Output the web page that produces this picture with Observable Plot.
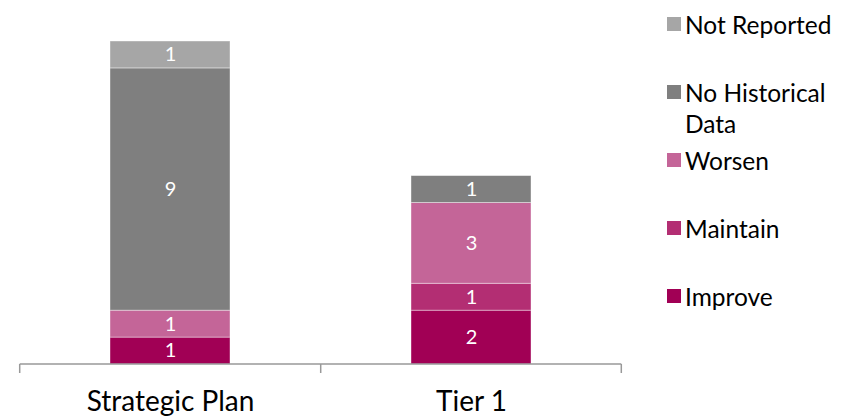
<!DOCTYPE html>
<html><head><meta charset="utf-8">
<script src="https://cdn.jsdelivr.net/npm/d3@7"></script>
<script src="https://cdn.jsdelivr.net/npm/@observablehq/plot@0.6"></script>
<style>
body{margin:0;background:#fff;font-family:Lato,"Open Sans",sans-serif;}
#wrap{position:relative;width:843px;height:420px;}
#legend{position:absolute;left:667px;top:0;font-size:24.5px;color:#000;line-height:31px;}
.item{position:absolute;left:0;white-space:nowrap;}
.sw{position:absolute;left:0;width:14px;height:14px;}
.lab{position:absolute;left:18px;}
</style></head>
<body><div id="wrap"><div id="chart"></div><div id="legend"></div></div>
<script>
const categories = ["Strategic Plan", "Tier 1"];
const series = ["Improve", "Maintain", "Worsen", "No Historical Data", "Not Reported"];
const colors = ["#A10055", "#B32E73", "#C46598", "#7F7F7F", "#A6A6A6"];
const strategicPlan = [1, 0, 1, 9, 1];
const tier1 = [2, 1, 3, 1, 0];
const legendTop = [24, 92, 160, 228, 296];

const values = [strategicPlan, tier1];
const data = [];
categories.forEach((c, i) => series.forEach((s, j) => {
  if (values[i][j] > 0) data.push({cat: c, series: s, value: values[i][j]});
}));

const boundaryMark = (index, scales, vals, dims) => {
  const x = scales.x, y = scales.y;
  const step = x.step(), po = 0.3;
  const g = d3.create("svg:g").attr("stroke", "#999").attr("stroke-width", 1.5);
  const y0 = y(0);
  const xs = categories.map(c => x(c) - po * step);
  xs.push(x(categories[categories.length - 1]) + x.bandwidth() + po * step);
  g.append("line").attr("x1", xs[0]).attr("x2", xs[xs.length - 1]).attr("y1", y0).attr("y2", y0);
  xs.forEach(v => g.append("line").attr("x1", v).attr("x2", v).attr("y1", y0).attr("y2", y0 + 9));
  return g.node();
};

const chart = Plot.plot({
  width: 843, height: 420,
  marginLeft: 20, marginRight: 221, marginTop: 41, marginBottom: 56,
  style: {fontFamily: "Lato, 'Open Sans', sans-serif", background: "white"},
  x: {domain: categories, paddingInner: 0.6, paddingOuter: 0.3, label: null},
  y: {domain: [0, 12], axis: null},
  color: {domain: series, range: colors},
  marks: [
    Plot.barY(data, Plot.stackY({x: "cat", y: "value", fill: "series", order: series, stroke: "white", strokeOpacity: 0.5, strokeWidth: 0.8})),
    boundaryMark,
    Plot.text(data, Plot.stackY({x: "cat", y: "value", z: "series", order: series, text: d => String(d.value), fill: "white", fontSize: 20})),
    Plot.axisX({tickSize: 0, tickPadding: 27, fontSize: 28, fill: "#000", label: null})
  ]
});
document.getElementById("chart").appendChild(chart);

const leg = document.getElementById("legend");
const order = [4, 3, 2, 1, 0];
order.forEach((j, k) => {
  const it = document.createElement("div");
  it.className = "item";
  it.style.top = (legendTop[k] - 15) + "px";
  const sw = document.createElement("div");
  sw.className = "sw"; sw.style.background = colors[j]; sw.style.top = "8px";
  const lb = document.createElement("div");
  lb.className = "lab";
  lb.innerHTML = series[j] === "No Historical Data" ? "No Historical<br>Data" : series[j];
  it.appendChild(sw); it.appendChild(lb); leg.appendChild(it);
});
</script></body></html>
